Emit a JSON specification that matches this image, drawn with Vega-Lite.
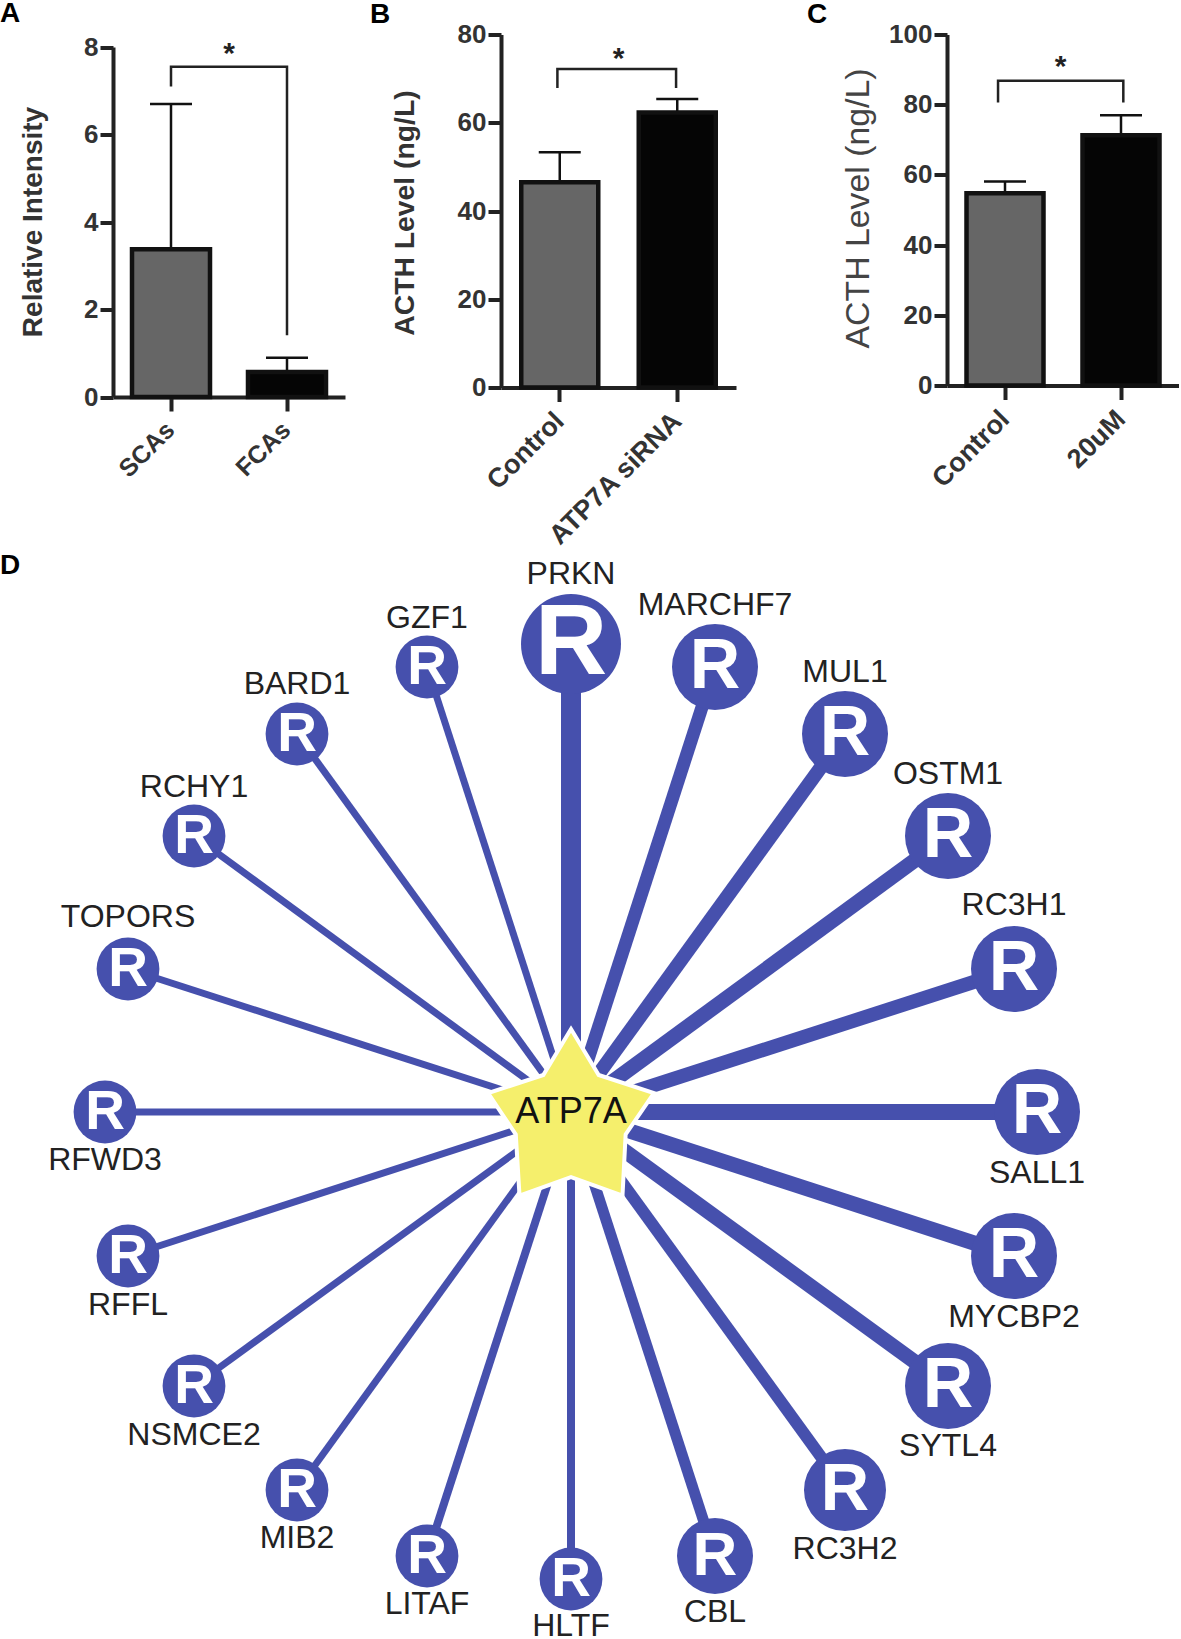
{
"$schema":"https://vega.github.io/schema/vega-lite/v6.json",
"background":"white",
"padding":{"left":0,"top":-0.5,"right":0,"bottom":0},
"config":{"view":{"stroke":null},
"axisY":{"grid":false,"domainWidth":4,"domainColor":"#222222","tickWidth":4,"tickColor":"#222222","tickSize":13,"labelFont":"Liberation Sans","labelFontWeight":"bold","labelFontSize":26,"labelColor":"#333333","labelPadding":2,"titleFont":"Liberation Sans","titleColor":"#333333","titleBaseline":"middle"},
"axisX":{"grid":false,"domainWidth":4,"domainColor":"#222222","tickWidth":4,"tickColor":"#222222","tickSize":14,"labelFont":"Liberation Sans","labelFontWeight":"bold","labelColor":"#333333","labelPadding":6,"labelOffset":-9,"labelAngle":-45,"title":null},
"title":{"font":"Liberation Sans","fontWeight":"bold","fontSize":28,"color":"#000000","anchor":"start","frame":"group","baseline":"alphabetic"},
"text":{"font":"Liberation Sans"}},
"columns":3,"bounds":"flush","spacing":{"row":164.5,"column":156},
"concat":[
{"title":{"text":"A","dx":-113,"offset":5.6},"width":232,"height":362.5,
"resolve":{"scale":{"x":"independent"}},
"layer":[
{"data":{"values":[{"g":"SCAs","kind":"c","v":3.38,"u":6.7},{"g":"FCAs","kind":"t","v":0.57,"u":0.9}]},
"layer":[
{"mark":{"type":"rule","stroke":"#111111","strokeWidth":2.5},"encoding":{"x":{"field":"g","type":"nominal","sort":null,"axis":{"labelFontSize":25},"scale":{"paddingInner":0.3,"paddingOuter":0.15}},"y":{"field":"v","type":"quantitative","scale":{"domain":[0,8],"range":[362.5,12.5],"nice":false},"axis":{"values":[0,2,4,6,8],"title":"Relative Intensity","titleFontSize":28,"titleFontWeight":"bold","titleX":-80,"titleY":187,"titleAngle":270}},"y2":{"field":"u"}}},
{"mark":{"type":"tick","color":"#111111","opacity":1,"thickness":2.5,"size":42},"encoding":{"x":{"field":"g","type":"nominal","sort":null},"y":{"field":"u","type":"quantitative"}}},
{"mark":{"type":"bar","stroke":"#111111","strokeWidth":4.5,"size":78},"encoding":{"x":{"field":"g","type":"nominal","sort":null},"y":{"field":"v","type":"quantitative"},"fill":{"field":"kind","type":"nominal","legend":null,"scale":{"domain":["c","t"],"range":["#666666","#050505"]}}}}
]},
{"data":{"values":[{"px":0.5,"py":7.1,"o":1},{"px":0.5,"py":7.55,"o":2},{"px":1.5,"py":7.55,"o":3},{"px":1.5,"py":1.41,"o":4}]},
"mark":{"type":"line","stroke":"#222222","strokeWidth":2.5,"strokeJoin":"miter"},
"encoding":{"x":{"field":"px","type":"quantitative","axis":null,"scale":{"domain":[0,2],"nice":false}},"y":{"field":"py","type":"quantitative"},"order":{"field":"o","type":"quantitative"}}},
{"data":{"values":[{"px":1,"py":7.84,"t":"*"}]},
"mark":{"type":"text","fontSize":30,"fontWeight":"bold","color":"#222222"},
"encoding":{"x":{"field":"px","type":"quantitative","axis":null,"scale":{"domain":[0,2],"nice":false}},"y":{"field":"py","type":"quantitative"},"text":{"field":"t"}}}
]},
{"title":{"text":"B","dx":-131,"offset":-7.5},"width":290,"height":353,
"resolve":{"scale":{"x":"independent"}},
"layer":[
{"data":{"values":[{"g":"Control","kind":"c","v":46.5,"u":53.3},{"g":"ATP7A siRNA","kind":"t","v":62.3,"u":65.4}]},
"layer":[
{"mark":{"type":"rule","stroke":"#111111","strokeWidth":2.5},"encoding":{"x":{"field":"g","type":"nominal","sort":null,"axis":{"labelFontSize":27},"scale":{"range":[0,235],"paddingInner":0.3,"paddingOuter":0.15}},"y":{"field":"v","type":"quantitative","scale":{"domain":[0,80],"nice":false},"axis":{"values":[0,20,40,60,80],"title":"ACTH Level (ng/L)","titleFontSize":28.3,"titleFontWeight":"bold","titleX":-96,"titleY":178,"titleAngle":270}},"y2":{"field":"u"}}},
{"mark":{"type":"tick","color":"#111111","opacity":1,"thickness":2.5,"size":42},"encoding":{"x":{"field":"g","type":"nominal","sort":null},"y":{"field":"u","type":"quantitative"}}},
{"mark":{"type":"bar","stroke":"#111111","strokeWidth":4.5,"size":77},"encoding":{"x":{"field":"g","type":"nominal","sort":null},"y":{"field":"v","type":"quantitative"},"fill":{"field":"kind","type":"nominal","legend":null,"scale":{"domain":["c","t"],"range":["#666666","#050505"]}}}}
]},
{"data":{"values":[{"px":0.48,"py":67.9,"o":1},{"px":0.48,"py":72.2,"o":2},{"px":1.49,"py":72.2,"o":3},{"px":1.49,"py":67.9,"o":4}]},
"mark":{"type":"line","stroke":"#222222","strokeWidth":2.5,"strokeJoin":"miter"},
"encoding":{"x":{"field":"px","type":"quantitative","axis":null,"scale":{"domain":[0,2],"range":[0,235],"nice":false}},"y":{"field":"py","type":"quantitative"},"order":{"field":"o","type":"quantitative"}}},
{"data":{"values":[{"px":1,"py":74.4,"t":"*"}]},
"mark":{"type":"text","fontSize":30,"fontWeight":"bold","color":"#222222"},
"encoding":{"x":{"field":"px","type":"quantitative","axis":null,"scale":{"domain":[0,2],"range":[0,235],"nice":false}},"y":{"field":"py","type":"quantitative"},"text":{"field":"t"}}}
]},
{"title":{"text":"C","dx":-140,"offset":-7.5},"width":232,"height":351,
"resolve":{"scale":{"x":"independent"}},
"layer":[
{"data":{"values":[{"g":"Control","kind":"c","v":54.8,"u":58.1},{"g":"20uM","kind":"t","v":71.3,"u":77}]},
"layer":[
{"mark":{"type":"rule","stroke":"#111111","strokeWidth":2.5},"encoding":{"x":{"field":"g","type":"nominal","sort":null,"axis":{"labelFontSize":27},"scale":{"paddingInner":0.3,"paddingOuter":0.15}},"y":{"field":"v","type":"quantitative","scale":{"domain":[0,100],"nice":false},"axis":{"values":[0,20,40,60,80,100],"title":"ACTH Level (ng/L)","titleFontSize":33.8,"titleFontWeight":"normal","titleColor":"#444444","titleX":-89,"titleY":173.5,"titleAngle":270}},"y2":{"field":"u"}}},
{"mark":{"type":"tick","color":"#111111","opacity":1,"thickness":2.5,"size":42},"encoding":{"x":{"field":"g","type":"nominal","sort":null},"y":{"field":"u","type":"quantitative"}}},
{"mark":{"type":"bar","stroke":"#111111","strokeWidth":4.5,"size":77},"encoding":{"x":{"field":"g","type":"nominal","sort":null},"y":{"field":"v","type":"quantitative"},"fill":{"field":"kind","type":"nominal","legend":null,"scale":{"domain":["c","t"],"range":["#666666","#050505"]}}}}
]},
{"data":{"values":[{"px":0.44,"py":80.6,"o":1},{"px":0.44,"py":86.8,"o":2},{"px":1.52,"py":86.8,"o":3},{"px":1.52,"py":80.6,"o":4}]},
"mark":{"type":"line","stroke":"#222222","strokeWidth":2.5,"strokeJoin":"miter"},
"encoding":{"x":{"field":"px","type":"quantitative","axis":null,"scale":{"domain":[0,2],"nice":false}},"y":{"field":"py","type":"quantitative"},"order":{"field":"o","type":"quantitative"}}},
{"data":{"values":[{"px":0.98,"py":90.6,"t":"*"}]},
"mark":{"type":"text","fontSize":30,"fontWeight":"bold","color":"#222222"},
"encoding":{"x":{"field":"px","type":"quantitative","axis":null,"scale":{"domain":[0,2],"nice":false}},"y":{"field":"py","type":"quantitative"},"text":{"field":"t"}}}
]},
{"title":{"text":"D","dx":-113,"dy":22,"offset":0},"width":232,"height":1079,
"resolve":{"scale":{"size":"independent"}},
"data":{"values":[
{"name":"PRKN","x":0,"y":468,"ly":538,"r":50,"w":20},
{"name":"MARCHF7","x":144,"y":445,"ly":507,"r":43,"w":13},
{"name":"MUL1","x":274,"y":378,"ly":440,"r":43,"w":14},
{"name":"OSTM1","x":377,"y":276,"ly":338,"r":43,"w":15},
{"name":"RC3H1","x":443,"y":143,"ly":207,"r":43,"w":14},
{"name":"SALL1","x":466,"y":0,"ly":-61,"r":43,"w":16},
{"name":"MYCBP2","x":443,"y":-144,"ly":-205,"r":43,"w":15},
{"name":"SYTL4","x":377,"y":-274,"ly":-334,"r":43,"w":15},
{"name":"RC3H2","x":274,"y":-378,"ly":-437,"r":41,"w":12},
{"name":"CBL","x":144,"y":-444,"ly":-500,"r":38,"w":11},
{"name":"HLTF","x":0,"y":-467,"ly":-514,"r":31.4,"w":8},
{"name":"LITAF","x":-144,"y":-444,"ly":-492,"r":31.4,"w":8},
{"name":"MIB2","x":-274,"y":-378,"ly":-426,"r":31.4,"w":7},
{"name":"NSMCE2","x":-377,"y":-274,"ly":-323,"r":31.4,"w":7},
{"name":"RFFL","x":-443,"y":-144,"ly":-193,"r":31.4,"w":7},
{"name":"RFWD3","x":-466,"y":0,"ly":-48,"r":31.4,"w":7},
{"name":"TOPORS","x":-443,"y":143,"ly":195,"r":31.4,"w":7},
{"name":"RCHY1","x":-377,"y":276,"ly":325,"r":31.4,"w":7},
{"name":"BARD1","x":-274,"y":378,"ly":428,"r":31.4,"w":7},
{"name":"GZF1","x":-144,"y":445,"ly":494,"r":31.4,"w":7}
]},
"encoding":{
"x":{"field":"x","type":"quantitative","axis":null,"scale":{"domain":[-458,610],"range":[0,1068],"nice":false,"zero":false}},
"y":{"field":"y","type":"quantitative","axis":null,"scale":{"domain":[-529,550],"nice":false,"zero":false}}
},
"layer":[
{"mark":{"type":"rule","stroke":"#4650ad","strokeCap":"butt"},"encoding":{"x2":{"datum":0},"y2":{"datum":0},"strokeWidth":{"field":"w","type":"quantitative","legend":null,"scale":{"domain":[0,20],"range":[0,20]}}}},
{"data":{"values":[{"x":0,"y":0}]},"mark":{"type":"point","filled":true,"opacity":1,"shape":"M0,-1L0.334,-0.446L1,-0.229L0.659,0.271L0.621,1.009L0,0.784L-0.621,1.009L-0.666,0.271L-1,-0.229L-0.334,-0.446Z","size":27500,"fill":"#f5ef6c","stroke":"white","strokeWidth":4}},
{"mark":{"type":"circle","opacity":1,"fill":"#4650ad"},"encoding":{"size":{"field":"r","type":"quantitative","legend":null,"scale":{"type":"pow","exponent":2,"domain":[0,50],"range":[0,10000]}}}},
{"mark":{"type":"text","text":"R","fontWeight":"bold","color":"white","baseline":"middle"},"encoding":{"size":{"field":"r","type":"quantitative","legend":null,"scale":{"domain":[31.4,38,41,43,50],"range":[55,62,67,70,100]}}}},
{"mark":{"type":"text","fontSize":32,"color":"#222222"},"encoding":{"y":{"field":"ly","type":"quantitative"},"text":{"field":"name"}}},
{"data":{"values":[{"x":0,"y":0,"name":"ATP7A"}]},"mark":{"type":"text","fontSize":36,"color":"#111111"},"encoding":{"text":{"field":"name"}}}
]}
]}
